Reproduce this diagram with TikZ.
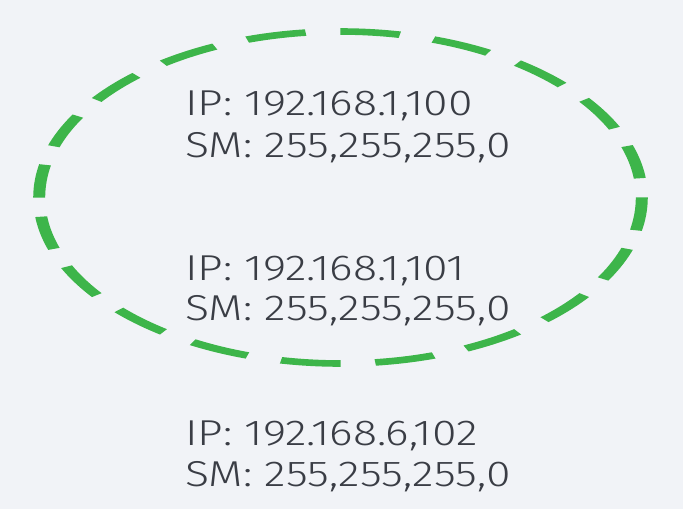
\documentclass[tikz,border=0pt]{standalone}
\usepackage{fontspec}
\newfontfamily\lightfont[FakeStretch=1.24]{Fira Sans Light}
\definecolor{bgc}{HTML}{F1F3F7}
\definecolor{grn}{HTML}{3DB54A}
\definecolor{txt}{HTML}{3A3D45}
\begin{document}
\begin{tikzpicture}[x=1pt,y=-1pt,
  lbl/.style={anchor=base west,inner sep=0pt,text=txt,font=\lightfont\fontsize{36}{40}\selectfont},
  ring/.style={draw=grn,line width=6.6pt,dash pattern=on 33pt off 19.15pt}]
\fill[bgc] (0,0) rectangle (683,509);
\useasboundingbox (0,0) rectangle (683,509);
\begin{scope}[transform canvas={shift={(340.5,197.5)},xscale=1.815}]
\draw[ring] (0,0) circle [radius=166];
\end{scope}
\node[lbl] (ip1) at (185,115) {IP: 192.168.1,100};
\node[lbl] (sm1) at (185,157) {SM: 255,255,255,0};
\node[lbl] (ip2) at (185,280) {IP: 192.168.1,101};
\node[lbl] (sm2) at (185,320) {SM: 255,255,255,0};
\node[lbl] (ip3) at (185,445) {IP: 192.168.6,102};
\node[lbl] (sm3) at (185,486) {SM: 255,255,255,0};
\end{tikzpicture}
\end{document}
